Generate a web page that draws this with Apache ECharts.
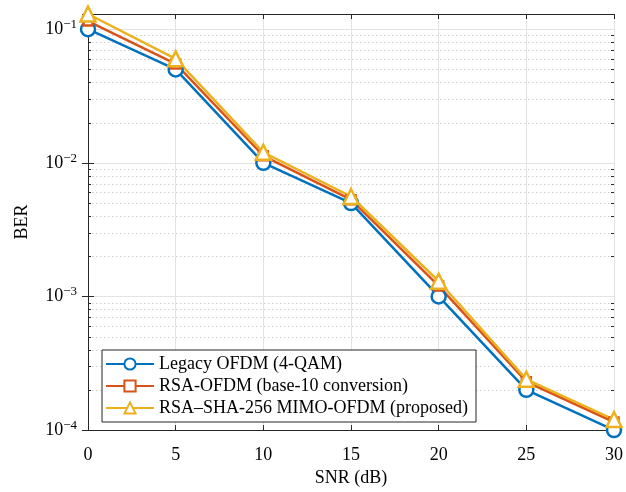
<!DOCTYPE html>
<html>
<head>
<meta charset="utf-8">
<script src="https://cdn.jsdelivr.net/npm/echarts@6/dist/echarts.min.js"></script>
<style>html,body{margin:0;padding:0;background:#fff;}#c{width:626px;height:492px;}</style>
</head>
<body>
<div id="c"></div>
<script>
const snr = [0, 5, 10, 15, 20, 25, 30];
const legacy = [0.1, 0.05, 0.01, 0.005, 0.001, 0.0002, 0.0001];
const rsaOfdm = [0.115, 0.055, 0.0113, 0.0053, 0.0012, 0.00023, 0.000115];
const proposed = [0.13, 0.06, 0.012, 0.0056, 0.0013, 0.00024, 0.00012];
const seriesNames = ['Legacy OFDM (4-QAM)', 'RSA-OFDM (base-10 conversion)', 'RSA\u2013SHA-256 MIMO-OFDM (proposed)'];
const minorValues = [];
[1e-4, 1e-3, 1e-2, 1e-1].forEach(d => { for (let k = 2; k <= 9; k++) { const v = +(d * k).toPrecision(3); if (v <= 0.13) minorValues.push(v); } });

const serif = '"Liberation Serif", "DejaVu Serif", serif';
const axisCol = '#262626';
const chart = echarts.init(document.getElementById('c'));
const pairs = arr => snr.map((x, i) => [x, arr[i]]);
function expLabel(v) {
  const e = Math.round(Math.log10(v));
  return '{b|10}{e|' + (e < 0 ? '\u2212' : '') + Math.abs(e) + '}';
}
const lineSeries = (name, data, color, symbol, size) => ({
  name, type: 'line', data: pairs(data), symbol, symbolSize: size,
  showAllSymbol: true, z: 5,
  lineStyle: { color, width: 2.5 },
  itemStyle: { color: '#fff', borderColor: color, borderWidth: 2.5 },
  emphasis: { disabled: true }
});
chart.setOption({
  animation: false,
  backgroundColor: '#fff',
  grid: { left: 88, right: 7, top: 14, bottom: 60 },
  legend: {
    orient: 'vertical', left: 102, top: 350,
    data: seriesNames,
    itemWidth: 48, itemHeight: 14, itemGap: 4,
    padding: [5, 8, 5, 3],
    backgroundColor: '#fff', borderColor: axisCol, borderWidth: 1,
    textStyle: { fontFamily: serif, fontSize: 18, color: '#000' }
  },
  xAxis: [{
    type: 'value', min: 0, max: 30, interval: 5,
    name: 'SNR (dB)', nameLocation: 'middle', nameGap: 36,
    nameTextStyle: { fontFamily: serif, fontSize: 18, color: '#000' },
    axisLine: { lineStyle: { color: axisCol, width: 1 } },
    axisTick: { inside: true, length: 5, lineStyle: { color: axisCol } },
    axisLabel: { fontFamily: serif, fontSize: 18, color: '#000', margin: 16 },
    splitLine: { show: true, lineStyle: { color: '#e3e3e3', width: 1 } }
  }, {
    type: 'value', min: 0, max: 30, interval: 5, position: 'top',
    axisLine: { show: true, lineStyle: { color: axisCol, width: 1 } },
    axisTick: { inside: true, length: 5, lineStyle: { color: axisCol } },
    axisLabel: { show: false }, splitLine: { show: false }
  }],
  yAxis: [{
    type: 'log', logBase: 10, min: 1e-4, max: 0.13,
    name: 'BER', nameLocation: 'middle', nameGap: 57,
    nameTextStyle: { fontFamily: serif, fontSize: 18, color: '#000' },
    axisLine: { show: true, lineStyle: { color: axisCol, width: 1 } },
    axisTick: { inside: true, length: 6, lineStyle: { color: axisCol } },
    axisLabel: {
      margin: 11, formatter: expLabel,
      rich: {
        b: { fontFamily: serif, fontSize: 18, color: '#000' },
        e: { fontFamily: serif, fontSize: 13, color: '#000', verticalAlign: 'bottom', padding: [0, 0, 9, 0] }
      }
    },
    splitLine: { show: true, lineStyle: { color: '#e3e3e3', width: 1 } }
  }, {
    type: 'log', logBase: 10, min: 1e-4, max: 0.13, position: 'right',
    axisLine: { show: true, lineStyle: { color: axisCol, width: 1 } },
    axisTick: { inside: true, length: 6, lineStyle: { color: axisCol } },
    axisLabel: { show: false }, splitLine: { show: false }
  }],
  series: [
    {
      type: 'custom', name: 'minor', silent: true, z: 1,
      data: minorValues.map(v => [0, v]),
      renderItem: function (params, api) {
        const cs = params.coordSys;
        const y = Math.round(api.coord([0, api.value(1)])[1]) + 0.5;
        return {
          type: 'group', children: [
            { type: 'line', shape: { x1: cs.x, y1: y, x2: cs.x + cs.width, y2: y },
              style: { stroke: '#d0d0d0', lineWidth: 1, lineDash: [1.5, 2.5] } },
            { type: 'line', shape: { x1: cs.x, y1: y, x2: cs.x + 3, y2: y },
              style: { stroke: axisCol, lineWidth: 1 } },
            { type: 'line', shape: { x1: cs.x + cs.width - 3, y1: y, x2: cs.x + cs.width, y2: y },
              style: { stroke: axisCol, lineWidth: 1 } }
          ]
        };
      }
    },
    lineSeries(seriesNames[0], legacy, '#0072BD', 'circle', 14),
    lineSeries(seriesNames[1], rsaOfdm, '#D95319', 'rect', 9),
    lineSeries(seriesNames[2], proposed, '#EDB120', 'triangle', 15)
  ]
});
</script>
</body>
</html>
